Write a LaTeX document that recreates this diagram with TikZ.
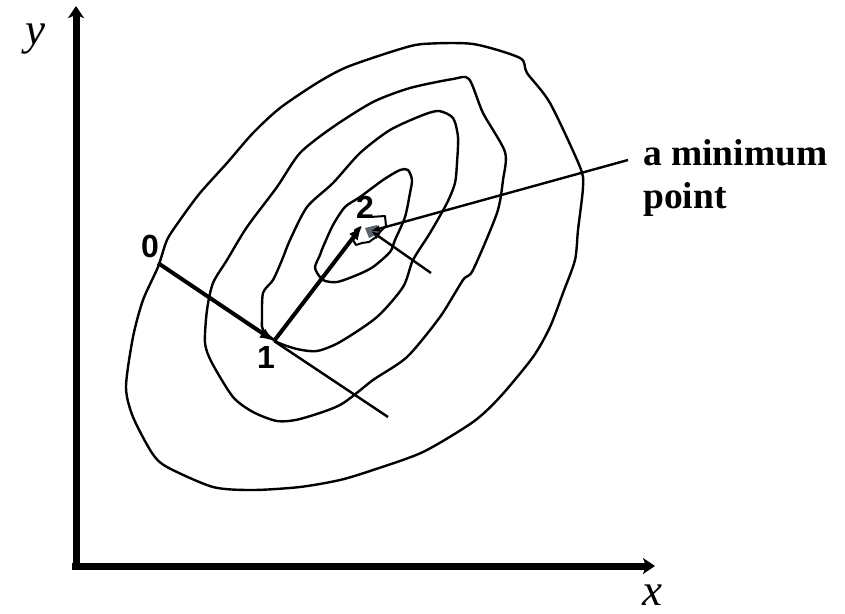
\documentclass[tikz,border=0pt]{standalone}
\usepackage{fontspec}
\setmainfont{Liberation Serif}
\newfontfamily\digitfont{Liberation Sans}
\usetikzlibrary{arrows.meta}
\definecolor{mingray}{rgb}{0.36,0.40,0.45}
\tikzset{
  contour/.style={line width=2.4pt, line join=round},
  thinline/.style={line width=2.4pt},
  steparrow/.style={line width=4pt, -{Latex[length=14pt,width=11pt]}},
  axis/.style={line width=7pt, -{Stealth[length=12pt,width=16pt,inset=3pt]}},
  axislabel/.style={font=\fontsize{45}{45}\selectfont\itshape, inner sep=0pt},
  digitlabel/.style={font=\digitfont\bfseries\fontsize{32}{32}\selectfont, inner sep=0pt},
  textlabel/.style={font=\bfseries\fontsize{37.5}{43}\selectfont, inner sep=0pt, anchor=base west}
}
\begin{document}
\begin{tikzpicture}[x=1pt,y=-1pt]
\useasboundingbox (0,0) rectangle (845,613);

% axes
\coordinate (origin) at (72,566);
\coordinate (xend) at (655,566);
\coordinate (yend) at (76,6);
\draw[axis] (origin) -- (xend);
\draw[axis] (76,570) -- (yend);
\node[axislabel, anchor=base] (xlab) at (652,605) {x};
\node[axislabel, anchor=base] (ylab) at (35,44) {y};

% contours
\draw[contour] plot[smooth cycle, tension=0.45] coordinates {
 (423,44) (473,44) (520,58) (527,73) (550,103) (580,167) (583,187) (578,230)
 (575,260) (563,293) (550,327) (533,357) (500,397) (473,422) (423,452) (373,470)
 (340,480) (300,487) (253,490) (213,487) (167,467) (152,453) (133,417) (126,387)
 (133,337) (143,300) (158,267) (167,240) (180,220) (200,193) (227,163) (253,133)
 (280,108) (317,83) (347,67) (397,50)};
\draw[contour] plot[smooth cycle, tension=0.45] coordinates {
 (453,79) (469,79) (483,113) (505,152) (503,180) (497,213) (473,270) (463,280)
 (440,317) (407,357) (373,380) (340,405) (300,419) (277,421) (253,412) (233,397)
 (212,363) (205,343) (207,310) (213,283) (227,260) (247,227) (277,187) (300,153)
 (333,127) (373,102) (410,88)};
\draw[contour] plot[smooth cycle, tension=0.45] coordinates {
 (439,111) (453,118) (458,137) (457,163) (455,183) (447,203) (430,233) (413,260)
 (403,287) (377,317) (340,342) (317,351) (297,349) (277,342) (263,330) (262,320)
 (263,293) (273,280) (282,260) (290,240) (307,207) (333,183) (360,153) (390,130)
 (423,115)};
\draw[contour] plot[smooth cycle, tension=0.45] coordinates {
 (408,170) (412,180) (410,193) (405,217) (395,240) (390,252) (373,267) (357,275)
 (337,282) (323,280) (315,268) (320,255) (323,247) (333,225) (345,207) (360,197)
 (383,180) (400,170)};

% minimum region
\coordinate (pmin) at (371,231);
\fill[mingray] (365,228) -- (377,225) -- (380,233) -- (369,238) -- cycle;
\draw[line width=2pt, line join=round] (370,217) -- (385,216) -- (386,226) -- (380,232)
  -- (376,237) -- (369,242) -- (362,243) -- (356,245) -- (353,240) -- (357,235)
  -- (355,230) -- (361,227);

% points
\coordinate (p0) at (158,263);
\coordinate (p1) at (274,341);
\coordinate (p2) at (362,226);
\coordinate (q1) at (388,417);
\coordinate (q2) at (431,273);
\coordinate (lead) at (628,160);

\draw[thinline] (p1) -- (q1);
\draw[thinline, {Latex[length=9pt,width=7pt]}-] (pmin) -- (q2);
\draw[thinline, {Latex[length=9pt,width=7pt]}-] (pmin) -- (lead);
\draw[steparrow] (p0) -- (p1);
\draw[steparrow] (p1) -- (p2);

\node[digitlabel] (l0) at (150,246) {0};
\node[digitlabel] (l1) at (266,357) {1};
\node[digitlabel] (l2) at (365,207) {2};

\node[textlabel] (t1) at (643,165) {a minimum};
\node[textlabel] (t2) at (643,208) {point};
\end{tikzpicture}
\end{document}
